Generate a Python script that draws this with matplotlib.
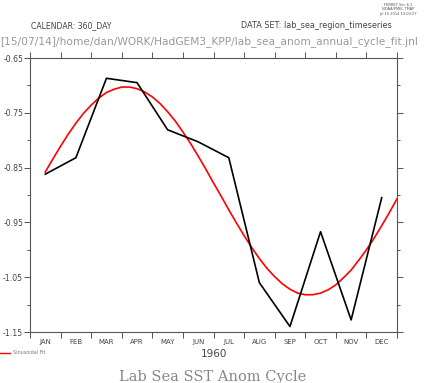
import matplotlib
matplotlib.use("Agg")
import matplotlib.pyplot as plt
from matplotlib.ticker import FixedLocator, NullFormatter

months = ["JAN", "FEB", "MAR", "APR", "MAY", "JUN", "JUL", "AUG", "SEP", "OCT", "NOV", "DEC"]
month_days = [15, 45, 75, 105, 135, 165, 195, 225, 255, 285, 315, 345]
sst_anom = [-0.862, -0.832, -0.687, -0.695, -0.781, -0.803, -0.832, -1.060, -1.140, -0.967, -1.128, -0.905]

fit_days = [15, 22.5, 30, 37.5, 45, 52.5, 60, 67.5, 75, 82.5, 90, 97.5, 105, 112.5,
            120, 127.5, 135, 142.5, 150, 157.5, 165, 172.5, 180, 187.5, 195, 202.5,
            210, 217.5, 225, 232.5, 240, 247.5, 255, 262.5, 270, 277.5, 285, 292.5,
            300, 307.5, 315, 322.5, 330, 337.5, 345, 352.5, 360]
fit_vals = [-0.858, -0.834, -0.811, -0.789, -0.769, -0.751, -0.736, -0.723,
            -0.713, -0.707, -0.703, -0.703, -0.706, -0.712, -0.721, -0.733,
            -0.748, -0.765, -0.785, -0.806, -0.829, -0.853, -0.878, -0.902,
            -0.927, -0.951, -0.974, -0.996, -1.016, -1.034, -1.049, -1.062,
            -1.072, -1.079, -1.082, -1.082, -1.079, -1.073, -1.064, -1.051,
            -1.037, -1.019, -1.000, -0.979, -0.956, -0.932, -0.907]

ytick_vals = [-0.65, -0.75, -0.85, -0.95, -1.05, -1.15]
ytick_minor = [-0.70, -0.80, -0.90, -1.00, -1.10]
month_bounds = [0, 30, 60, 90, 120, 150, 180, 210, 240, 270, 300, 330, 360]

W, H = 430, 383
fig = plt.figure(figsize=(W / 100, H / 100), dpi=100)
ax = fig.add_axes([30 / W, (H - 332) / H, 367 / W, 274 / H])

ax.plot(fit_days, fit_vals, color="#ff0000", lw=1.2, zorder=3)
ax.plot(month_days, sst_anom, color="black", lw=1.2, zorder=4)

ax.set_xlim(0, 360)
ax.set_ylim(-1.15, -0.65)

gray = "#555555"
for s in ax.spines.values():
    s.set_color(gray)
    s.set_linewidth(0.8)

ax.xaxis.set_major_locator(FixedLocator(month_bounds))
ax.xaxis.set_major_formatter(NullFormatter())
ax.xaxis.set_minor_locator(FixedLocator(month_days))
ax.set_xticklabels(months, minor=True)
ax.tick_params(axis="x", which="major", direction="out", length=4, width=0.7,
               color=gray, top=True, bottom=True)
ax.tick_params(axis="x", which="minor", length=0, labelsize=5, labelcolor="#444444", pad=5)

ax.yaxis.set_major_locator(FixedLocator(ytick_vals))
ax.set_yticklabels(["%.2f" % v for v in ytick_vals])
ax.yaxis.set_minor_locator(FixedLocator(ytick_minor))
ax.tick_params(axis="y", which="major", direction="out", length=4, width=0.7,
               color=gray, left=True, right=True, labelsize=5.6, labelcolor="#444444", pad=1)
ax.tick_params(axis="y", which="minor", direction="out", length=2.5, width=0.7,
               color=gray, left=True, right=True)

ax.set_xlabel("1960", fontsize=7.5, color="#444444", labelpad=3)

# header texts
fig.text(31 / W, 1 - 26 / H, "CALENDAR: 360_DAY", fontsize=5.6, color="#444444", va="center", ha="left")
fig.text(241 / W, 1 - 26 / H, "DATA SET: lab_sea_region_timeseries", fontsize=5.9, color="#444444",
         va="center", ha="left")
fig.text(0, 1 - 42 / H, "[15/07/14]/home/dan/WORK/HadGEM3_KPP/lab_sea_anom_annual_cycle_fit.jnl",
         fontsize=7.7, color="#999999", va="center", ha="left")
fig.text(398 / W, 1 - 3 / H, "FERRET Ver. 6.1\nNOAA/PMEL TMAP\nJul 15 2014 13:03:27",
         fontsize=2.6, color="#555555", va="top", ha="center", linespacing=1.1)

# legend
fig.add_artist(plt.Line2D([0, 10 / W], [1 - 353 / H, 1 - 353 / H], color="#ff0000", lw=1.0))
fig.text(13 / W, 1 - 353 / H, "Sinusoidal Fit", fontsize=3.5, color="#777777", va="center", ha="left")

# title
fig.text(213 / W, 1 - 377 / H, "Lab Sea SST Anom Cycle", fontsize=10.5, color="#888888",
         family="DejaVu Serif", va="center", ha="center")

fig.savefig("out.png", dpi=100)
